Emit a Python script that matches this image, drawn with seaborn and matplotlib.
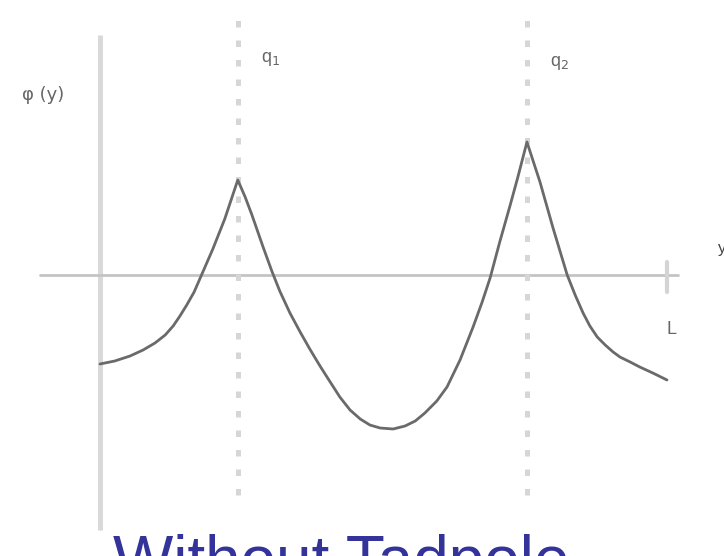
import matplotlib
matplotlib.use("Agg")
import matplotlib.pyplot as plt
import pandas as pd
import seaborn as sns

# Potential profile phi(y) across the interval [0, L], with two sources at q1, q2
y_pos = [0.000, 0.026, 0.053, 0.076, 0.097, 0.115, 0.129, 0.141, 0.153,
         0.166, 0.176, 0.199, 0.220, 0.243,
         0.256, 0.268, 0.287, 0.303, 0.317, 0.335, 0.353, 0.370, 0.388,
         0.406, 0.423, 0.441, 0.459, 0.476, 0.494, 0.517, 0.538, 0.556,
         0.573, 0.594, 0.612, 0.635, 0.658, 0.674, 0.688, 0.705, 0.723,
         0.737, 0.753,
         0.776, 0.799, 0.824, 0.838, 0.852, 0.864, 0.877, 0.891, 0.905,
         0.917, 0.935, 0.952, 0.975, 1.000]
phi = [-0.89, -0.86, -0.81, -0.75, -0.68, -0.60, -0.51, -0.41, -0.30,
       -0.17, -0.04, 0.26, 0.56, 0.95,
       0.78, 0.60, 0.29, 0.04, -0.16, -0.38, -0.57, -0.74, -0.91,
       -1.07, -1.22, -1.35, -1.44, -1.50, -1.53, -1.54, -1.51, -1.46,
       -1.38, -1.26, -1.12, -0.85, -0.52, -0.27, -0.03, 0.33, 0.69,
       0.98, 1.33,
       0.93, 0.47, 0.00, -0.20, -0.38, -0.51, -0.62, -0.70, -0.77,
       -0.82, -0.87, -0.92, -0.98, -1.05]

source_pos = [0.243, 0.753]
source_labels = ["q$_1$", "q$_2$"]
L_pos = 1.0
title = "Without Tadpole"

df = pd.DataFrame({"y": y_pos, "phi": phi})

sns.set_theme(style="white")
plt.rcParams["font.family"] = ["Liberation Sans", "DejaVu Sans"]

fig = plt.figure(figsize=(7.24, 5.56), dpi=100)
ax = fig.add_axes([0, 0, 1, 1])
ax.set_xlim(-100 / 567, 624 / 567)
ax.set_ylim(-2.81, 2.75)
ax.axis("off")

# coordinate axes
ax.plot([0, 0], [-2.55, 2.4], color="#d9d9d9", lw=3.6, solid_capstyle="butt", zorder=1)
ax.plot([-0.106, 1.02], [0, 0], color="#c4c4c4", lw=2.0, zorder=1)
ax.plot([L_pos, L_pos], [-0.17, 0.13], color="#d4d4d4", lw=3.0, zorder=1)

# dotted markers at the source positions
for xs, lab, ly in zip(source_pos, source_labels, [2.16, 2.12]):
    ax.plot([xs, xs], [-2.2, 2.55], color="#d6d6d6", lw=3.6,
            linestyle=(0, (1.3, 2.6)), solid_capstyle="butt", zorder=1)
    ax.text(xs + 0.041, ly, lab, fontsize=13, color="#666666",
            ha="left", va="center")

sns.lineplot(data=df, x="y", y="phi", ax=ax, color="#6a6a6a", lw=2.0,
             sort=False, zorder=3)

ax.text(-0.137, 1.80, "\u03c6 (y)", fontsize=13, color="#666666",
        ha="left", va="center", family=["DejaVu Sans"])
ax.text(1.0, -0.55, "L", fontsize=13, color="#666666", ha="left", va="center")
ax.text(1.09, 0.27, "y", fontsize=12, color="#444444", ha="left", va="center")

fig.text(113 / 724, 1 - 534 / 556, title, fontsize=46, color="#333399",
         ha="left", va="top")

fig.savefig("out.png", dpi=100)
